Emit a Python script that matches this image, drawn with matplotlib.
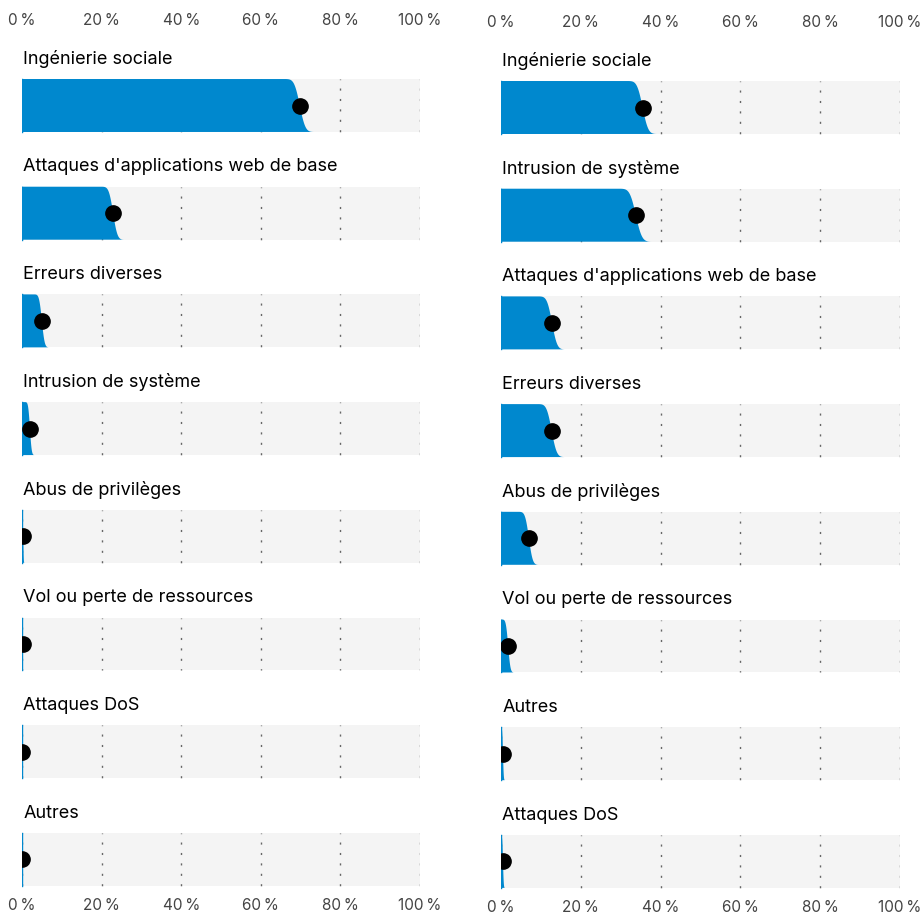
import math
import numpy as np
import matplotlib
matplotlib.use("Agg")
import matplotlib.pyplot as plt

plt.rcParams["font.family"] = ["Inter", "DejaVu Sans"]

# left panel
left_labels = ["Ingénierie sociale", "Attaques d'applications web de base", "Erreurs diverses",
               "Intrusion de système", "Abus de privilèges", "Vol ou perte de ressources",
               "Attaques DoS", "Autres"]
left_median = [69.8, 22.9, 5.0, 2.0, 0.3, 0.15, 0.1, 0.1]
left_spread = [1.1, 0.85, 0.55, 0.35, 0.1, 0.05, 0.05, 0.05]

# right panel
right_labels = ["Ingénierie sociale", "Intrusion de système", "Attaques d'applications web de base",
                "Erreurs diverses", "Abus de privilèges", "Vol ou perte de ressources",
                "Autres", "Attaques DoS"]
right_median = [35.5, 33.8, 12.8, 12.7, 7.0, 1.8, 0.5, 0.5]
right_spread = [1.1, 1.2, 1.0, 1.0, 0.75, 0.45, 0.15, 0.15]

ticks = [0, 20, 40, 60, 80, 100]
tick_labels = ["0\u2009%", "20\u2009%", "40\u2009%", "60\u2009%", "80\u2009%", "100\u2009%"]

BLUE = "#0088ce"
GRAY = "#f4f4f4"

W, H = 923, 917
fig = plt.figure(figsize=(W / 100, H / 100), dpi=100)

row_px = 107.7
band = 53 / row_px

erf = np.vectorize(math.erf)


def panel(x0, x1, first_center, labels, med, spr):
    ax = fig.add_axes([x0 / W, 0, (x1 - x0) / W, 1])
    top = -first_center / row_px
    ax.set_xlim(0, 100)
    ax.set_ylim(top + H / row_px, top)
    ax.axis("off")
    for i, (lab, m, s) in enumerate(zip(labels, med, spr)):
        y0, y1 = i - band / 2, i + band / 2
        ax.fill_between([0, 100], y0, y1, color=GRAY, lw=0, zorder=1)
        ax.vlines(ticks, y0, y1, colors="#666666", linestyles=(1, (1.5, 6)), lw=1, zorder=2)
        xs = np.linspace(m - 3.2 * s, m + 3.2 * s, 200)
        cdf = 0.5 * (1 + erf((xs - m) / (s * math.sqrt(2))))
        ys = y0 + cdf * (y1 - y0)
        px = np.concatenate([[0, 0], np.clip(xs, 0, None), [0]])
        py = np.concatenate([[y1, y0], ys, [y1]])
        ax.fill(px, py, color=BLUE, lw=0, zorder=3)
        ax.plot([0, 0], [y0, y1], color=BLUE, lw=1, zorder=3)
        ax.plot(m, i, "o", color="black", ms=11, zorder=4)
        ax.text(0.3, i - 0.43, lab, fontsize=13, color="#000000", ha="left", va="center")
    for t, tl in zip(ticks, tick_labels):
        ax.text(t, -0.79, tl, fontsize=11, color="#444444", ha="center", va="center", clip_on=False)
        ax.text(t, 7.43, tl, fontsize=11, color="#444444", ha="center", va="center", clip_on=False)
    return ax


panel(22, 420, 105.5, left_labels, left_median, left_spread)
panel(501, 900, 107.5, right_labels, right_median, right_spread)

fig.savefig("out.png", dpi=100)
